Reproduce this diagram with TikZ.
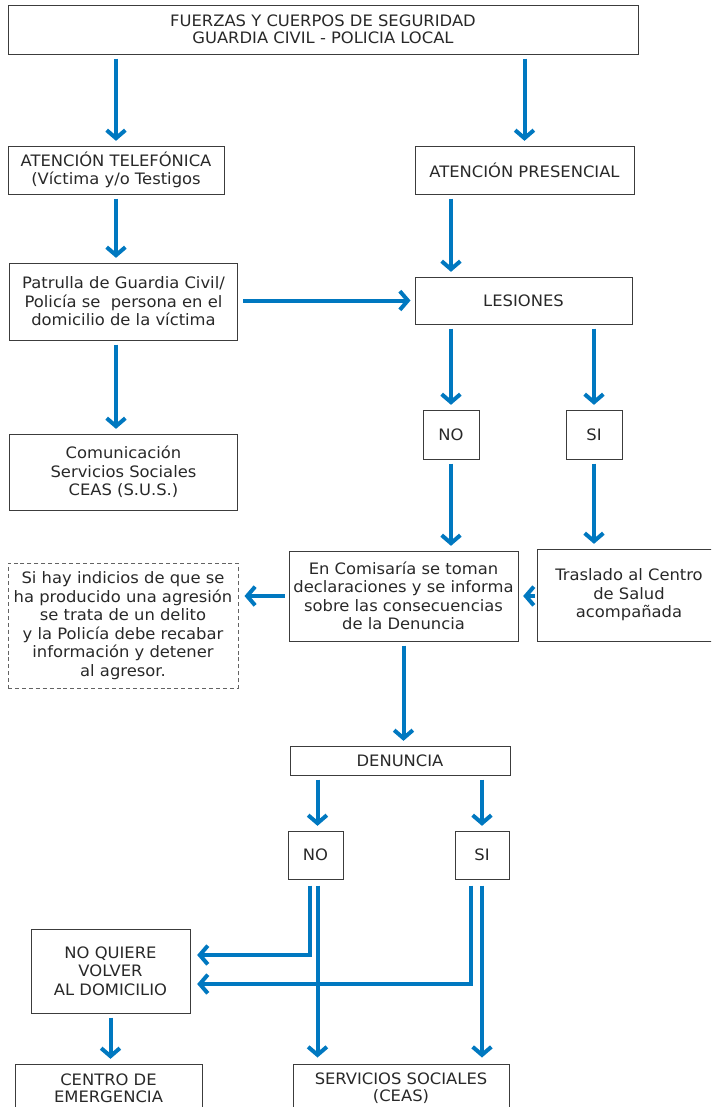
\documentclass[tikz,border=0pt]{standalone}
\usepackage{fontspec}
\setmainfont{DejaVu Sans}[FakeStretch=1.04]
\usetikzlibrary{arrows.meta,calc}
\definecolor{arrc}{RGB}{0,120,192}
\definecolor{boxc}{RGB}{60,60,60}
\definecolor{txtc}{RGB}{40,40,40}
\tikzset{
  box/.style={draw=boxc, line width=0.75pt, inner sep=0pt, align=center, text=txtc,
    font=\fontsize{11.8}{13.9}\selectfont},
  dbox/.style={box, draw=boxc!80, dash pattern=on 3pt off 2.2pt},
  sz/.style 2 args={minimum width={#1*0.75pt}, minimum height={#2*0.75pt}},
  arr/.style={draw=arrc, line width=3pt, -{Straight Barb[length=6pt,width=14pt]},
    shorten <=3pt, shorten >=3.5pt},
}
\begin{document}
\begin{tikzpicture}[x=0.75pt,y=-0.75pt]
\useasboundingbox (0,0) rectangle (711,1107);
\clip (0,0) rectangle (711,1107);
% nodes
\node[box, sz={630}{49}, font=\fontsize{11.8}{12.75}\selectfont] (top) at (323,29.5)
  {FUERZAS Y CUERPOS DE SEGURIDAD\\GUARDIA CIVIL - POLICIA LOCAL};
\node[box, sz={216}{48}] (tel) at (116,170) {ATENCIÓN TELEFÓNICA\\(Víctima y/o Testigos};
\node[box, sz={219}{48}] (pres) at (524.5,170) {ATENCIÓN PRESENCIAL};
\node[box, sz={228}{77}] (pat) at (123.5,301.5)
  {Patrulla de Guardia Civil/\\Policía se~ persona en el\\domicilio de la víctima};
\node[box, sz={217}{47}] (les) at (523.5,300.5) {LESIONES};
\node[box, sz={56}{49}] (no1) at (451,434.5) {NO};
\node[box, sz={56}{49}] (si1) at (594,434.5) {SI};
\node[box, sz={228}{76}] (com) at (123.5,472)
  {Comunicación\\Servicios Sociales\\CEAS (S.U.S.)};
\node[box, sz={229}{90}] (comis) at (403.5,596)
  {En Comisaría se toman\\declaraciones y se informa\\sobre las consecuencias\\de la Denuncia};
\node[box, sz={184}{92}] (tras) at (629,595)
  {Traslado al Centro\\de Salud\\acompañada};
\node[dbox, sz={230}{125}] (nota) at (123,625.5)
  {Si hay indicios de que se\\ha producido una agresión\\se trata de un delito\\y la Policía debe recabar\\información y detener\\al agresor.};
\node[box, sz={220}{29}] (denun) at (400,760.5) {DENUNCIA};
\node[box, sz={55}{48}] (no2) at (315.5,855) {NO};
\node[box, sz={54}{48}] (si2) at (482,855) {SI};
\node[box, sz={159}{84}] (noq) at (110.5,971) {NO QUIERE\\VOLVER\\AL DOMICILIO};
\node[box, sz={187}{48}, font=\fontsize{11.8}{13}\selectfont] (centro) at (108.5,1088) {CENTRO DE\\EMERGENCIA};
\node[box, sz={216}{48}, font=\fontsize{11.8}{13}\selectfont] (serv) at (401,1088) {SERVICIOS SOCIALES\\(CEAS)};
% helper coordinates
\coordinate (n2a) at ([xshift=-4.5pt]no2.south);
\coordinate (n2b) at ([xshift=1.5pt]no2.south);
\coordinate (s2a) at ([xshift=-8.25pt]si2.south);
\coordinate (s2b) at (si2.south);
\coordinate (noqa) at ([yshift=12pt]noq.east);
\coordinate (noqb) at ([yshift=-9.75pt]noq.east);
% connectors
\draw[arr] (top.south -| tel) -- (tel.north);
\draw[arr] (top.south -| pres) -- (pres.north);
\draw[arr] (tel.south) -- (tel.south |- pat.north);
\draw[arr] (pres.south -| no1) -- (les.north -| no1);
\draw[arr, shorten <=4pt, shorten >=3pt] (pat.east |- les) -- (les.west);
\draw[arr] (pat.south -| tel) -- (com.north -| tel);
\draw[arr] (les.south -| no1) -- (no1.north);
\draw[arr] (les.south -| si1) -- (si1.north);
\draw[arr] (no1.south) -- (no1.south |- comis.north);
\draw[arr] (si1.south) -- (si1.south |- tras.north);
\draw[arr, shorten <=1.5pt, shorten >=3.5pt] (tras.west |- comis) -- (comis.east);
\draw[arr, shorten >=4.5pt] (comis.west) -- (nota.east |- comis.west);
\draw[arr] (comis.south) -- (comis.south |- denun.north);
\draw[arr] (denun.south -| n2b) -- (n2b |- no2.north);
\draw[arr] (denun.south -| si2) -- (si2.north);
\draw[arr, shorten <=4.5pt, shorten >=5pt] (n2a) |- (noqa);
\draw[arr, shorten <=4.5pt, shorten >=5pt] (s2a) |- (noqb);
\draw[arr, shorten <=4.5pt, shorten >=4.5pt] (n2b) -- (n2b |- serv.north);
\draw[arr, shorten <=4.5pt, shorten >=4.5pt] (s2b) -- (s2b |- serv.north);
\draw[arr] (noq.south) -- (noq.south |- centro.north);
\end{tikzpicture}
\end{document}
